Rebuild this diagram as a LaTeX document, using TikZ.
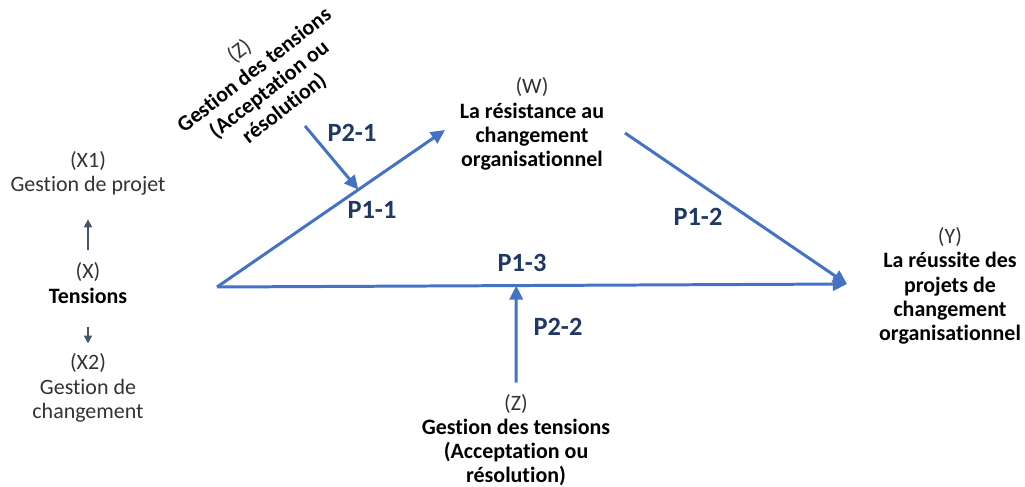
\documentclass[tikz,border=0pt]{standalone}
\usepackage{fontspec}
\setmainfont{Carlito}[Ligatures=NoCommon]
\usetikzlibrary{arrows.meta,calc}
\definecolor{linkblue}{HTML}{4472C4}
\definecolor{labelnavy}{HTML}{1F3864}
\definecolor{slate}{HTML}{44546A}
\definecolor{ink}{HTML}{333333}
\begin{document}
\begin{tikzpicture}[x=0.02cm,y=-0.02cm,
  txt/.style={align=center, inner sep=0pt, text=ink,
    font=\fontsize{12.5}{13.8}\selectfont},
  lbl/.style={inner sep=0pt, text=labelnavy,
    font=\fontsize{15}{17}\selectfont\bfseries},
  link/.style={draw=linkblue, line width=1.7pt,
    -{Triangle[length=8pt,width=7.5pt]}},
  tick/.style={draw=slate, line width=0.9pt,
    -{Triangle[length=4.5pt,width=4.5pt]}}]
\useasboundingbox (0,0) rectangle (1025,487);

% variables
\node[txt] (X1) at (88,173) {(X1)\\Gestion de projet};
\node[txt] (X)  at (88,283) {(X)\\\textbf{\color{black}Tensions}};
\node[txt] (X2) at (88,388) {(X2)\\Gestion de\\changement};
\node[txt] (W)  at (532,124) {(W)\\\textbf{\color{black}La résistance au}\\\textbf{\color{black}changement}\\\textbf{\color{black}organisationnel}};
\node[txt] (Y)  at (950,286) {(Y)\\\textbf{\color{black}La réussite des}\\\textbf{\color{black}projets de}\\\textbf{\color{black}changement}\\\textbf{\color{black}organisationnel}};
\node[txt] (Zb) at (516,440) {(Z)\\\textbf{\color{black}Gestion des tensions}\\\textbf{\color{black}(Acceptation ou}\\\textbf{\color{black}résolution)}};
\node[txt, rotate=38] (Zt) at (262,80) {(Z)\\\textbf{\color{black}Gestion des tensions}\\\textbf{\color{black}(Acceptation ou}\\\textbf{\color{black}résolution)}};

% X splits into its two dimensions
\draw[tick, shorten <=0.24cm, shorten >=0.48cm] (X) -- (X1);
\draw[tick, shorten <=0.46cm, shorten >=0.2cm] (X) -- (X2);

% path model
\coordinate (o)   at (217,287);
\coordinate (wIn) at (445,130);
\coordinate (wOut) at (625,133);
\coordinate (yIn) at (847,284);
\coordinate (m1)  at ($(o)!0.62!(wIn)$);
\coordinate (m3)  at ($(o)!0.475!(yIn)$);
\coordinate (zt)  at (305,126);

\draw[link] (o) -- (wIn);
\draw[link] (wOut) -- (yIn);
\draw[link] (o) -- (yIn);
\draw[link] (zt) -- (m1);
\draw[link, shorten <=0.22cm] (Zb.north) -- (m3);

% proposition labels
\node[lbl] (P21) at (352,133) {P2-1};
\node[lbl] (P11) at (372,210) {P1-1};
\node[lbl] (P12) at (698,217) {P1-2};
\node[lbl] (P13) at (522,263) {P1-3};
\node[lbl] (P22) at (558,327) {P2-2};
\end{tikzpicture}
\end{document}
